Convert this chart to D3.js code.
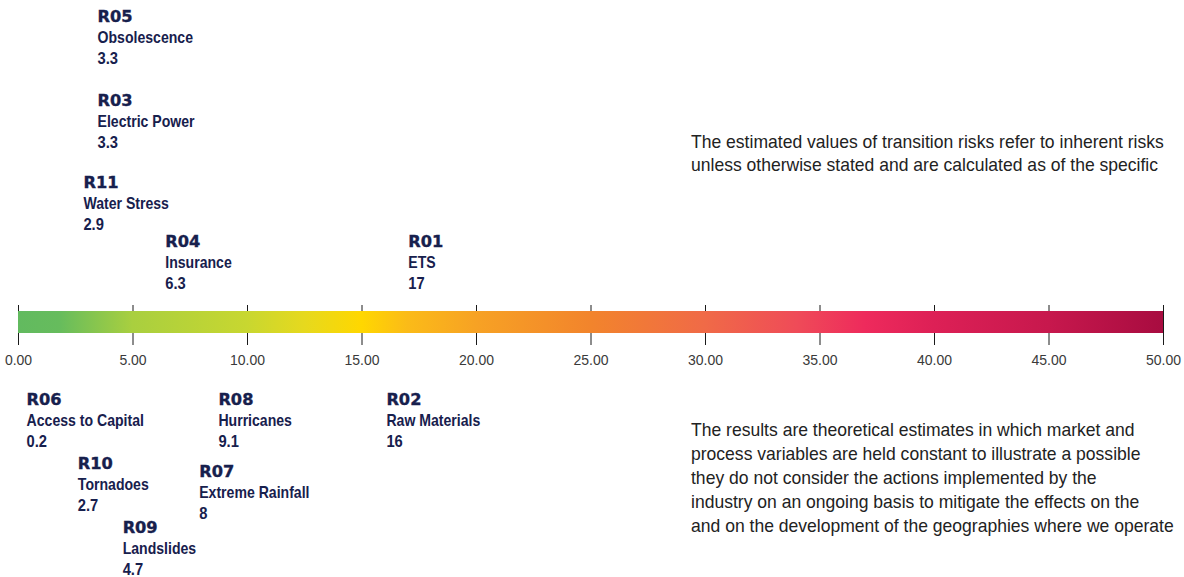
<!DOCTYPE html>
<html>
<head>
<meta charset="utf-8">
<script src="https://cdn.jsdelivr.net/npm/d3@7/dist/d3.min.js"></script>
<style>
  html, body { margin: 0; padding: 0; background: #ffffff; overflow: hidden; }
  svg { display: block; }
  .code { font-family: "DejaVu Sans", sans-serif; font-weight: bold; font-size: 15px; fill: #17204d; stroke: #17204d; stroke-width: 0.35px; }
  .name { font-family: "Liberation Sans", Arial, sans-serif; font-weight: bold; font-size: 16px; fill: #17204d; }
  .val  { font-family: "Liberation Sans", Arial, sans-serif; font-weight: bold; font-size: 16px; fill: #17204d; }
  .note { font-family: "Liberation Sans", Arial, sans-serif; font-size: 18px; fill: #222222; }
  .axis text { font-family: "Liberation Sans", Arial, sans-serif; font-size: 14px; fill: #3a3a3a; }
  .axis line { stroke: #1a1a1a; stroke-width: 1; }
</style>
</head>
<body>
<svg id="chart" width="1184" height="577"></svg>
<script>
// Risk codes, names and estimated values (scale 0–50)
const codes  = ["R01", "R02", "R03", "R04", "R05", "R06", "R07", "R08", "R09", "R10", "R11"];
const names  = ["ETS", "Raw Materials", "Electric Power", "Insurance", "Obsolescence",
                "Access to Capital", "Extreme Rainfall", "Hurricanes", "Landslides", "Tornadoes", "Water Stress"];
const values = [17, 16, 3.3, 6.3, 3.3, 0.2, 8, 9.1, 4.7, 2.7, 2.9];

// Transition risks sit above the scale, physical risks below it
const sides  = ["top", "bottom", "top", "top", "top", "bottom", "bottom", "bottom", "bottom", "bottom", "top"];

// Axis ticks
const tickValues = [0, 5, 10, 15, 20, 25, 30, 35, 40, 45, 50];

// Colour ramp along the scale
const rampValues = [0, 1.8, 5, 10, 12.5, 15, 17, 20, 25, 30, 34, 37, 40, 45, 50];
const rampColors = ["#62ba5f", "#66bc5d", "#a9cf3f", "#c8d730", "#e6d91e", "#ffd700", "#fbbb18",
                    "#f7a224", "#f2842c", "#f06a47", "#ef4b58", "#ee2a5c", "#dd2056", "#c7184d", "#a80c40"];

// Notes beside the scale
const noteTop = [
  "The estimated values of transition risks refer to inherent risks",
  "unless otherwise stated and are calculated as of the specific"
];
const noteBottom = [
  "The results are theoretical estimates in which market and",
  "process variables are held constant to illustrate a possible",
  "they do not consider the actions implemented by the",
  "industry on an ongoing basis to mitigate the effects on the",
  "and on the development of the geographies where we operate"
];

const svg = d3.select("#chart");

const barTop = 311, barH = 22;
const x = d3.scaleLinear().domain([0, 50]).range([18, 1163]);

// Label stacking: baseline of the code line and a small horizontal nudge per risk
const stack = {
  R05: { y: 22,  dx: 4 },
  R03: { y: 106, dx: 4 },
  R11: { y: 188, dx: -1 },
  R04: { y: 247, dx: 3 },
  R01: { y: 247, dx: 1 },
  R06: { y: 405, dx: 4 },
  R08: { y: 405, dx: -8 },
  R02: { y: 405, dx: 2 },
  R10: { y: 469, dx: -2 },
  R07: { y: 477, dx: -2 },
  R09: { y: 533, dx: -3 }
};

// Ticks (drawn under the bar so they show only above and below it)
const axis = d3.axisBottom(x)
  .tickValues(tickValues)
  .tickFormat(d3.format(".2f"))
  .tickSize(40)
  .tickPadding(10);

const gAxis = svg.append("g")
  .attr("class", "axis")
  .attr("transform", `translate(0,${barTop - 6})`)
  .call(axis);
gAxis.select(".domain").remove();
gAxis.selectAll(".tick").filter(d => d === 0).select("line").attr("stroke", "#777");

// Gradient bar
const defs = svg.append("defs");
const grad = defs.append("linearGradient")
  .attr("id", "riskRamp")
  .attr("gradientUnits", "userSpaceOnUse")
  .attr("x1", x(0)).attr("x2", x(50))
  .attr("y1", 0).attr("y2", 0);
grad.selectAll("stop")
  .data(rampValues)
  .join("stop")
  .attr("offset", d => d / 50)
  .attr("stop-color", (d, i) => rampColors[i]);

svg.append("rect")
  .attr("x", x(0))
  .attr("y", barTop)
  .attr("width", x(50) - x(0))
  .attr("height", barH)
  .attr("fill", "url(#riskRamp)");

// Risk labels
const risks = codes.map((c, i) => ({ code: c, name: names[i], value: values[i], side: sides[i] }));

const lbl = svg.append("g").selectAll("g")
  .data(risks)
  .join("g")
  .attr("transform", d => `translate(${x(d.value) + stack[d.code].dx},${stack[d.code].y})`);

// wide, heavy code line; narrower name and value lines
lbl.append("text").attr("class", "code")
  .attr("transform", "scale(1.08,1)")
  .text(d => d.code);
lbl.append("text").attr("class", "name")
  .attr("transform", "translate(0,21) scale(0.88,1)")
  .text(d => d.name);
lbl.append("text").attr("class", "val")
  .attr("transform", "translate(0,42) scale(0.92,1)")
  .text(d => d3.format("~g")(d.value));

// Notes (slightly condensed)
svg.append("g").selectAll("text")
  .data(noteTop)
  .join("text")
  .attr("class", "note")
  .attr("transform", (d, i) => `translate(691,${148 + i * 23}) scale(0.975,1)`)
  .text(d => d);

svg.append("g").selectAll("text")
  .data(noteBottom)
  .join("text")
  .attr("class", "note")
  .attr("transform", (d, i) => `translate(691,${436 + i * 24}) scale(0.975,1)`)
  .text(d => d);
</script>
</body>
</html>
